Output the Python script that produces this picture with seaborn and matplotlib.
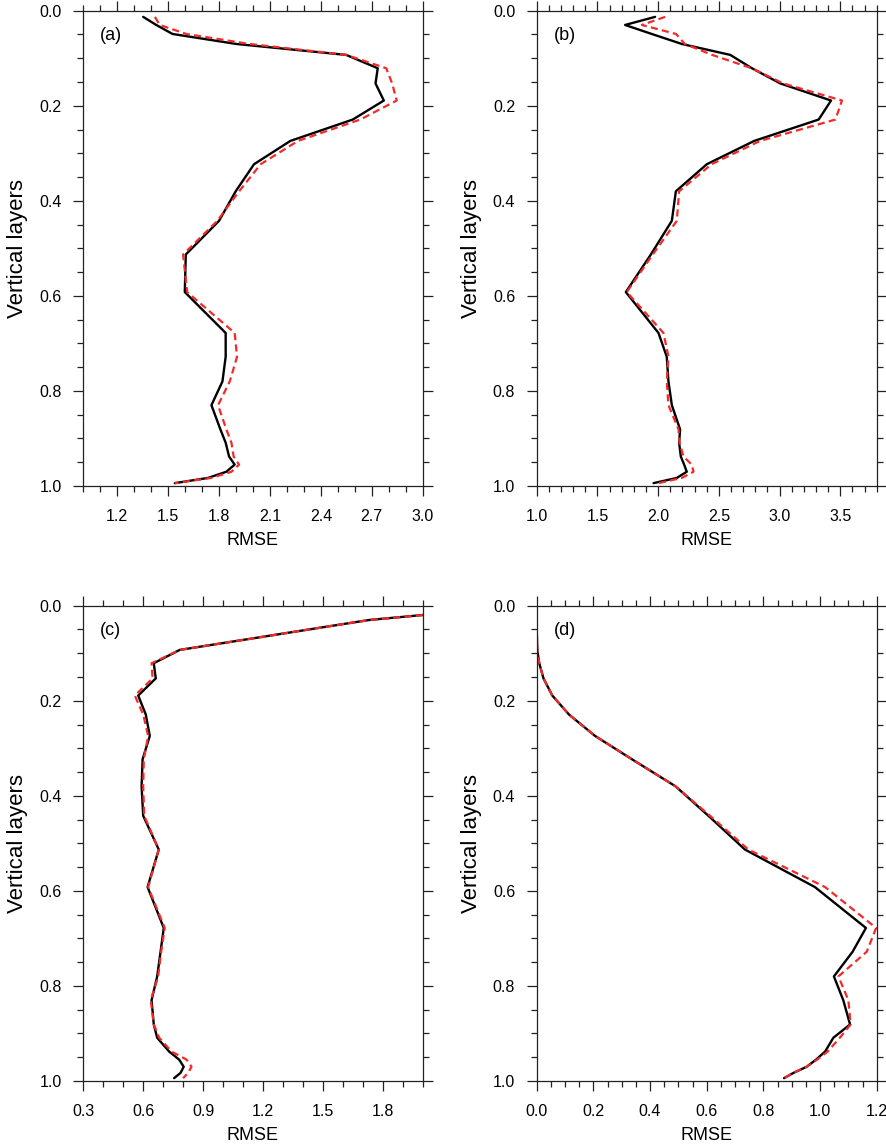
import numpy as np
import pandas as pd
import seaborn as sns
import matplotlib
matplotlib.use("Agg")
import matplotlib.pyplot as plt
from matplotlib.ticker import FixedLocator, MultipleLocator, FormatStrFormatter

# ---------------- data ----------------
levels = [0.013, 0.030, 0.049, 0.070, 0.093, 0.121, 0.153, 0.189, 0.229, 0.274,
          0.323, 0.380, 0.442, 0.513, 0.592, 0.678, 0.728, 0.780, 0.830, 0.881,
          0.909, 0.938, 0.955, 0.970, 0.983, 0.994]

a_black = [1.353, 1.43, 1.526, 1.902, 2.549, 2.735, 2.722, 2.771, 2.588, 2.220,
           2.006, 1.898, 1.800, 1.604, 1.598, 1.839, 1.839, 1.820, 1.755, 1.808,
           1.839, 1.859, 1.892, 1.843, 1.735, 1.539]
a_red = [1.422, 1.45, 1.608, 1.98, 2.55, 2.785, 2.82, 2.847, 2.632, 2.265,
         2.045, 1.918, 1.79, 1.588, 1.612, 1.892, 1.906, 1.863, 1.794, 1.843,
         1.873, 1.886, 1.918, 1.873, 1.755, 1.539]

b_black = [1.975, 1.728, 1.948, 2.195, 2.594, 2.772, 3.006, 3.424, 3.322, 2.791,
           2.401, 2.146, 2.113, 1.94, 1.734, 2.003, 2.071, 2.085, 2.113, 2.181,
           2.173, 2.187, 2.214, 2.236, 2.154, 1.962]
b_red = [2.058, 1.866, 2.148, 2.22, 2.445, 2.77, 3.03, 3.514, 3.46, 2.84,
         2.44, 2.173, 2.154, 1.956, 1.742, 2.044, 2.085, 2.071, 2.085, 2.168,
         2.176, 2.209, 2.277, 2.291, 2.195, 2.003]

c_black = [2.17, 1.733, 1.445, 1.13, 0.783, 0.653, 0.663, 0.575, 0.613, 0.633,
           0.597, 0.592, 0.60, 0.678, 0.622, 0.703, 0.687, 0.67, 0.642, 0.653,
           0.67, 0.73, 0.78, 0.803, 0.787, 0.755]
c_red = [2.17, 1.733, 1.445, 1.13, 0.783, 0.642, 0.647, 0.558, 0.60, 0.625,
         0.603, 0.60, 0.605, 0.678, 0.625, 0.708, 0.69, 0.675, 0.638, 0.653,
         0.68, 0.742, 0.817, 0.842, 0.825, 0.80]

d_black = [0.0, 0.0, 0.0, 0.001, 0.002, 0.009, 0.024, 0.055, 0.114, 0.206,
           0.336, 0.49, 0.606, 0.735, 0.982, 1.162, 1.115, 1.049, 1.082, 1.106,
           1.047, 1.018, 0.986, 0.953, 0.906, 0.873]
d_red = [0.0, 0.0, 0.0, 0.001, 0.002, 0.009, 0.024, 0.055, 0.114, 0.206,
         0.336, 0.49, 0.612, 0.747, 1.018, 1.198, 1.165, 1.065, 1.10, 1.108,
         1.07, 1.027, 0.99, 0.953, 0.906, 0.873]

panel_labels = ["(a)", "(b)", "(c)", "(d)"]
xlims = [(1.0, 3.0), (1.0, 3.8), (0.3, 2.0), (0.0, 1.2)]
x_major = [[1.2, 1.5, 1.8, 2.1, 2.4, 2.7, 3.0],
           [1.0, 1.5, 2.0, 2.5, 3.0, 3.5],
           [0.3, 0.6, 0.9, 1.2, 1.5, 1.8],
           [0.0, 0.2, 0.4, 0.6, 0.8, 1.0, 1.2]]
x_minor_step = [0.1, 0.1, 0.1, 0.05]
y_major = [0.0, 0.2, 0.4, 0.6, 0.8, 1.0]
xlabel = "RMSE"
ylabel = "Vertical layers"

# ---------------- style ----------------
sns.set_theme(style="ticks")
plt.rcParams["font.family"] = ["Liberation Sans", "DejaVu Sans"]
plt.rcParams["text.color"] = "black"
plt.rcParams["axes.labelcolor"] = "black"
plt.rcParams["xtick.labelcolor"] = "black"
plt.rcParams["ytick.labelcolor"] = "black"

fig = plt.figure(figsize=(8.87, 11.47), dpi=100)
W, H = 887.0, 1147.0
boxes = [(83.3, 10.7, 422.7, 486.0), (536.7, 10.7, 876.7, 486.0),
         (83.3, 605.7, 422.7, 1081.0), (536.7, 605.7, 876.7, 1081.0)]

series = [(a_black, a_red), (b_black, b_red), (c_black, c_red), (d_black, d_red)]

for i, (x0, y0, x1, y1) in enumerate(boxes):
    ax = fig.add_axes([x0 / W, 1 - y1 / H, (x1 - x0) / W, (y1 - y0) / H])
    blk, red = series[i]
    df = pd.DataFrame({"level": levels, "ctrl": blk, "exp": red})
    sns.lineplot(data=df, x="ctrl", y="level", sort=False, estimator=None,
                 color="black", lw=1.7, ax=ax)
    sns.lineplot(data=df, x="exp", y="level", sort=False, estimator=None,
                 color="#f42a2a", lw=1.6, ax=ax, linestyle=(0, (3.2, 1.9)))
    ax.set_xlim(*xlims[i])
    ax.set_ylim(1.0, 0.0)
    ax.xaxis.set_major_locator(FixedLocator(x_major[i]))
    ax.xaxis.set_minor_locator(MultipleLocator(x_minor_step[i]))
    ax.yaxis.set_major_locator(FixedLocator(y_major))
    ax.yaxis.set_minor_locator(MultipleLocator(0.05))
    ax.xaxis.set_major_formatter(FormatStrFormatter("%.1f"))
    ax.yaxis.set_major_formatter(FormatStrFormatter("%.1f"))
    ax.tick_params(which="both", direction="out", top=True, right=True,
                   labeltop=False, labelright=False, color="#222222", width=0.9)
    ax.tick_params(which="major", length=7.5)
    ax.tick_params(which="minor", length=4)
    ax.tick_params(axis="x", which="major", labelsize=11.5, pad=9)
    ax.tick_params(axis="y", which="major", labelsize=11.5, pad=8)
    for sp in ax.spines.values():
        sp.set_visible(True)
        sp.set_color("#222222")
        sp.set_linewidth(0.9)
    ax.set_xlabel(xlabel, fontsize=13, labelpad=6)
    ax.set_ylabel(ylabel, fontsize=16, labelpad=8)
    ax.text(0.05, 0.948, panel_labels[i], transform=ax.transAxes,
            ha="left", va="center", fontsize=13)
    if ax.get_legend() is not None:
        ax.get_legend().remove()

fig.savefig("out.png", dpi=100)
